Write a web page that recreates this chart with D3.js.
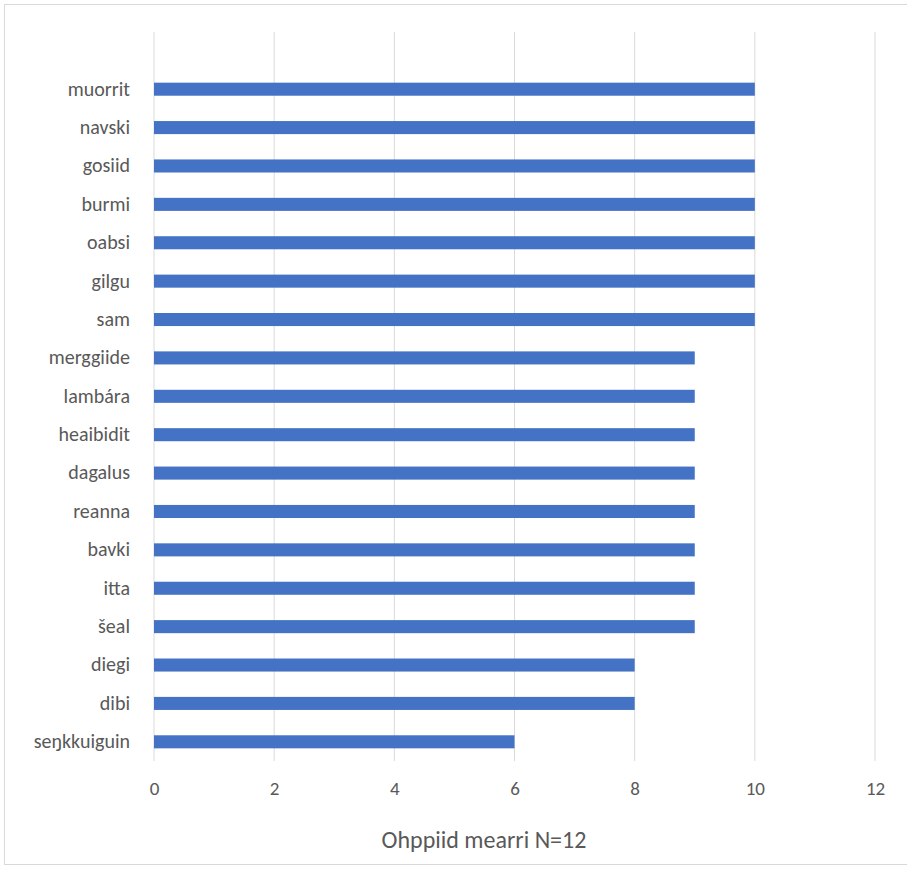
<!DOCTYPE html>
<html><head><meta charset="utf-8">
<script src="https://cdn.jsdelivr.net/npm/d3@7"></script>
<style>body{margin:0;background:#fff}svg{display:block}text{font-family:Calibri,Carlito,Lato,"Liberation Sans",Arial,sans-serif}</style>
</head><body><svg id="c" width="907" height="872"></svg>
<script>
const categories = ["muorrit","navski","gosiid","burmi","oabsi","gilgu","sam","merggiide","lambára","heaibidit","dagalus","reanna","bavki","itta","šeal","diegi","dibi","seŋkkuiguin"];
const values = [10,10,10,10,10,10,10,9,9,9,9,9,9,9,9,8,8,6];
const xTicks = [0,2,4,6,8,10,12];
const xTitle = "Ohppiid mearri N=12";

const svg = d3.select("#c");
svg.append("rect").attr("x",4.5).attr("y",4.5).attr("width",910).attr("height",860)
  .attr("fill","#fff").attr("stroke","#d9d9d9");
const x = d3.scaleLinear().domain([0,12]).range([154,875]);
const y = d3.scaleBand().domain(categories).range([70,761]).paddingInner(0.66).paddingOuter(0.33);
const gridTop = 32, gridBottom = 761;

svg.append("g").selectAll("line").data(xTicks).join("line")
  .attr("x1",d=>x(d)).attr("x2",d=>x(d)).attr("y1",gridTop).attr("y2",gridBottom)
  .attr("stroke","#d9d9d9").attr("stroke-width",1);

svg.append("g").selectAll("rect").data(values).join("rect")
  .attr("x",x(0)).attr("y",(d,i)=>y(categories[i]))
  .attr("width",d=>x(d)-x(0)).attr("height",y.bandwidth())
  .attr("fill","#4472C4");

const ff = 'Calibri,Carlito,Lato,"Liberation Sans",Arial,sans-serif';
const xAxis = svg.append("g").attr("transform",`translate(0,${gridBottom})`)
  .call(d3.axisBottom(x).tickValues(xTicks).tickSize(0).tickPadding(21));
xAxis.select(".domain").remove();
xAxis.selectAll("text").attr("font-size",19).attr("fill","#595959").style("font-family",ff);

const yAxis = svg.append("g").attr("transform",`translate(${x(0)},0)`)
  .call(d3.axisLeft(y).tickSize(0).tickPadding(24));
yAxis.select(".domain").remove();
yAxis.selectAll("text").attr("font-size",20).attr("fill","#595959").style("font-family",ff);

svg.append("text").attr("x",484).attr("y",848).attr("text-anchor","middle")
  .attr("font-size",24).attr("fill","#595959").text(xTitle);
</script></body></html>
